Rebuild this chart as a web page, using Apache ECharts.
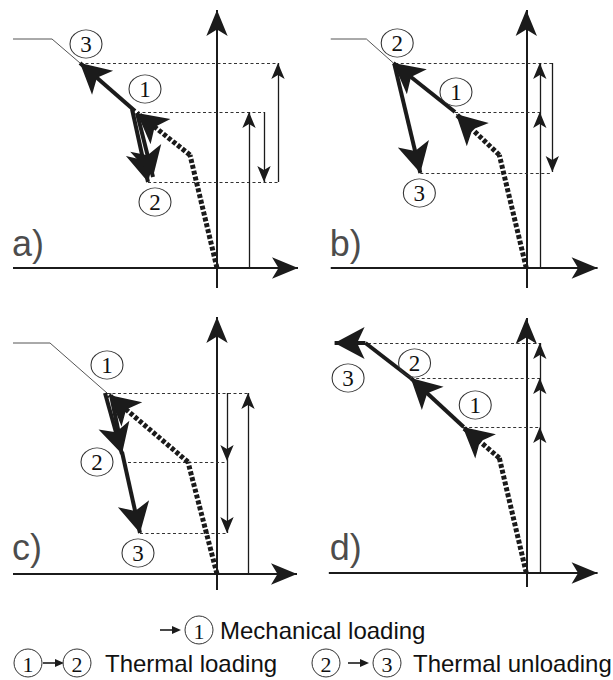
<!DOCTYPE html>
<html><head><meta charset="utf-8">
<script src="https://cdn.jsdelivr.net/npm/echarts@6/dist/echarts.min.js"></script>
<style>html,body{margin:0;padding:0;background:#fff}#c{width:613px;height:680px}</style>
</head><body><div id="c"></div>
<script>
// ---------------- data (origin of each panel = axes crossing, y up) ----------------
const panelLabels = ['a)', 'b)', 'c)', 'd)'];
const hAxes = [[-204, 81], [-203, 74], [-204, 80], [-205, 74]];     // x start, x tip
const vAxes = [[-20, 258], [-20, 258], [-16, 257], [-14, 255]];     // y start, y tip
// mechanical loading path (dashed): origin -> kink -> state 1
const mechPaths = [
  [[0, 0], [-27, 113], [-80, 155]],
  [[0, 0], [-28, 113], [-73, 154]],
  [[0, 0], [-29, 112], [-108, 179]],
  [[0, 0], [-28, 115], [-66, 146]]
];
// thick thermal arrows [from, to] (head at "to")
const thermalArrows = [
  [[[-82, 157], [-137, 205]], [[-85, 159], [-69, 86]], [[-80, 155], [-64, 91]]],
  [[[-74, 156], [-138, 205]], [[-137, 204], [-110, 95]]],
  [[[-112, 181], [-95, 120]], [[-95, 122], [-77, 41]]],
  [[[-65, 146], [-120, 195]], [[-167, 230], [-199, 230]]]
];
// thick thermal segments without head
const thermalLines = [
  [],
  [],
  [[[-106, 179], [-97, 135]]],
  [[[-120, 195], [-167, 230]]]
];
// dotted level lines [y, x start, x end]
const levelLines = [
  [[205, -137, 61], [156, -80, 47], [86, -69, 62]],
  [[205, -136, 27], [156, -74, 17], [95, -110, 27]],
  [[181, -110, 31], [112, -89, 10], [41, -77, 10]],
  [[230, -170, 15], [195, -120, 15], [146, -65, 15]]
];
// thin step arrows [x, y from, y to]
const stepArrows = [
  [[32, 0, 156], [47, 156, 86], [61, 86, 205]],
  [[14, 0, 156], [14, 156, 205], [27, 205, 96]],
  [[31, 0, 181], [10, 181, 113], [10, 113, 41]],
  [[14, 0, 146], [14, 146, 195], [14, 195, 230]]
];
// circled state numbers [x, y, state]
const stateMarks = [
  [[-131, 224, '3'], [-72, 179, '1'], [-62, 66, '2']],
  [[-134, 225, '2'], [-73, 176, '1'], [-111, 75, '3']],
  [[-110, 209, '1'], [-120, 112, '2'], [-79, 21, '3']],
  [[-185, 195, '3'], [-116, 210, '2'], [-53, 168, '1']]
];
const leaderLines = [
  [[-204, 229], [-165, 229], [-137, 205]],
  [[-203, 229], [-166, 229], [-138, 205]],
  [[-204, 231], [-167, 231], [-110, 181]],
  null
];
const labelPos = [[-205, 25], [-204, 25], [-205, 27], [-204, 26]];
// legend rows: y, then items [kind, x, text]
const legendRows = [
  [630, [['arrow', 160], ['state', 199, '1'], ['text', 220, 'Mechanical loading']]],
  [663, [['state', 28, '1'], ['arrow', 43], ['state', 77, '2'], ['text', 105, 'Thermal loading'],
         ['state', 326, '2'], ['arrow', 348], ['state', 387, '3'], ['text', 413, 'Thermal unloading']]]
];

// ---------------- layout / style ----------------
const INK = '#1b1b1b';
const grids = [
  {left: 7, top: 3}, {left: 324, top: 3}, {left: 7, top: 309}, {left: 324, top: 308}
].map(g => Object.assign({width: 300, height: 290}, g));
const X_RANGE = [-210, 90], Y_RANGE = [-25, 265];

const series = [];
panelLabels.forEach((lab, i) => {
  const base = {type: 'lines', coordinateSystem: 'cartesian2d', xAxisIndex: i, yAxisIndex: i, silent: true};
  const AX = [16, 26], TH = [24, 30], TN = [10, 16];
  // axes
  series.push(Object.assign({}, base, {
    z: 2,
    symbol: ['none', 'arrow'], symbolSize: [AX, AX],
    lineStyle: {color: INK, width: 2, opacity: 1},
    data: [
      {coords: [[hAxes[i][0], 0], [hAxes[i][1], 0]]},
      {coords: [[0, vAxes[i][0]], [0, vAxes[i][1]]]}
    ]
  }));
  // dotted level lines
  series.push(Object.assign({}, base, {
    z: 3,
    lineStyle: {color: '#333', width: 1.2, type: [3, 2.5], opacity: 1},
    data: levelLines[i].map(l => ({coords: [[l[1], l[0]], [l[2], l[0]]]}))
  }));
  // thin step arrows
  series.push(Object.assign({}, base, {
    z: 4,
    symbol: ['none', 'arrow'], symbolSize: [TN, TN],
    lineStyle: {color: INK, width: 1.3, opacity: 1},
    data: stepArrows[i].map(s => ({coords: [[s[0], s[1]], [s[0], s[2]]]}))
  }));
  // leader line
  if (leaderLines[i]) {
    series.push(Object.assign({}, base, {
      z: 4, polyline: true,
      lineStyle: {color: '#555', width: 1, opacity: 1},
      data: [{coords: leaderLines[i]}]
    }));
  }
  // mechanical loading dashed path
  const mp = mechPaths[i];
  series.push(Object.assign({}, base, {
    z: 5,
    lineStyle: {color: INK, width: 5, type: [4, 2], opacity: 1},
    data: [{coords: [mp[0], mp[1]]}]
  }));
  series.push(Object.assign({}, base, {
    z: 5,
    symbol: ['none', 'arrow'], symbolSize: [TH, TH],
    lineStyle: {color: INK, width: 5, type: [4, 2], opacity: 1},
    data: [{coords: [mp[1], mp[2]]}]
  }));
  // thermal thick lines
  if (thermalLines[i].length) {
    series.push(Object.assign({}, base, {
      z: 7,
      lineStyle: {color: INK, width: 4, opacity: 1},
      data: thermalLines[i].map(s => ({coords: s}))
    }));
  }
  series.push(Object.assign({}, base, {
    z: 7,
    symbol: ['none', 'arrow'], symbolSize: [TH, TH],
    lineStyle: {color: INK, width: 4, opacity: 1},
    data: thermalArrows[i].map(s => ({coords: s}))
  }));
  // circled state numbers
  series.push({
    type: 'scatter', xAxisIndex: i, yAxisIndex: i, silent: true, z: 8,
    symbol: 'circle', symbolSize: [32, 28],
    itemStyle: {color: 'rgba(255,255,255,0)', borderColor: '#333', borderWidth: 1, opacity: 1},
    label: {show: true, position: 'inside', formatter: p => p.data.name,
            fontFamily: 'Liberation Serif', fontSize: 23, color: '#111'},
    data: stateMarks[i].map(s => ({value: [s[0], s[1]], name: s[2]}))
  });
  // panel letter
  series.push({
    type: 'scatter', xAxisIndex: i, yAxisIndex: i, silent: true, z: 8,
    symbolSize: 0,
    label: {show: true, position: 'right', distance: 0, formatter: p => p.data.name,
            fontFamily: 'Liberation Sans', fontSize: 36, color: '#1b1b1b'},
    data: [{value: labelPos[i], name: lab}]
  });
});

// legend as graphic
const graphic = [];
legendRows.forEach(([y, items]) => {
  items.forEach(it => {
    if (it[0] === 'arrow') {
      graphic.push({type: 'line', shape: {x1: it[1], y1: y, x2: it[1] + 15, y2: y},
                    style: {stroke: INK, lineWidth: 1.6}});
      graphic.push({type: 'polygon', shape: {points: [[it[1] + 21, y], [it[1] + 12, y - 4], [it[1] + 12, y + 4]]},
                    style: {fill: INK}});
    } else if (it[0] === 'state') {
      graphic.push({type: 'circle', shape: {cx: it[1], cy: y, r: 14},
                    style: {fill: 'none', stroke: '#333', lineWidth: 1}});
      graphic.push({type: 'text', x: it[1], y: y + 1,
                    style: {text: it[2], fill: '#111', font: '22px "Liberation Serif"',
                            align: 'center', verticalAlign: 'middle'}});
    } else {
      graphic.push({type: 'text', x: it[1], y: y,
                    style: {text: it[2], fill: '#111', font: '24px "Liberation Sans"',
                            align: 'left', verticalAlign: 'middle'}});
    }
  });
});

const chart = echarts.init(document.getElementById('c'), null, {renderer: 'svg'});
chart.setOption({
  animation: false,
  backgroundColor: '#fff',
  grid: grids,
  xAxis: grids.map((g, i) => ({type: 'value', gridIndex: i, min: X_RANGE[0], max: X_RANGE[1], show: false})),
  yAxis: grids.map((g, i) => ({type: 'value', gridIndex: i, min: Y_RANGE[0], max: Y_RANGE[1], show: false})),
  series: series,
  graphic: graphic
});
</script></body></html>
